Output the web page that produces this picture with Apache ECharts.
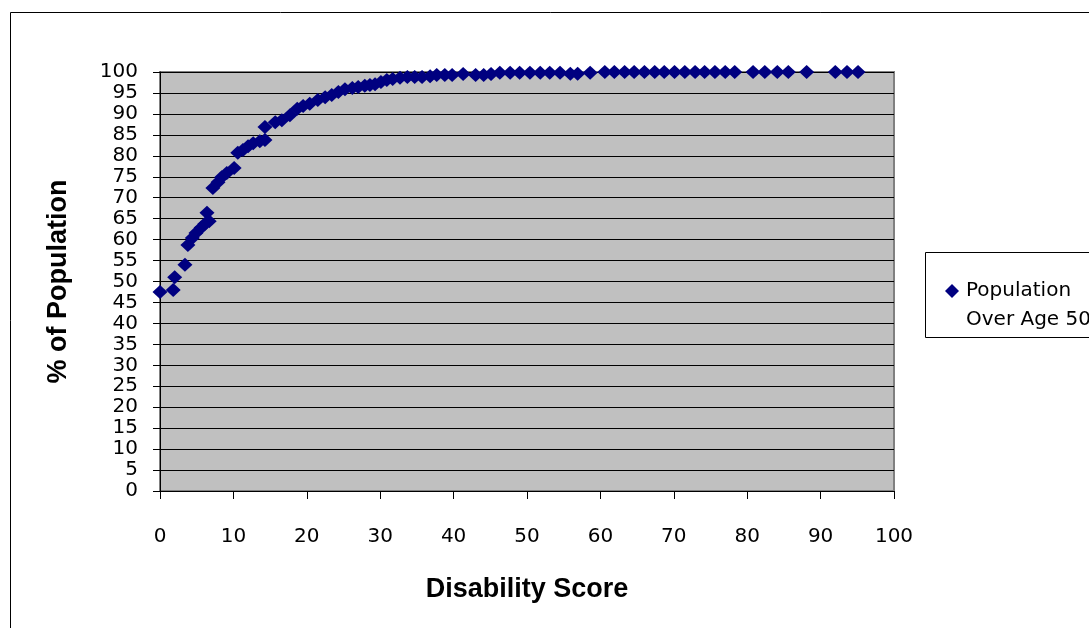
<!DOCTYPE html>
<html>
<head>
<meta charset="utf-8">
<script src="https://cdn.jsdelivr.net/npm/echarts@6/dist/echarts.min.js"></script>
<style>
  html, body { margin: 0; padding: 0; background: #fff; }
  #chart { width: 1089px; height: 628px; }
</style>
</head>
<body>
<div id="chart"></div>
<script>
// disability score (x) and cumulative % of population (y)
var scores = [0, 1.8, 2.0, 3.4, 3.8, 4.4, 4.9, 5.6, 6.1, 6.4, 6.7, 7.2, 7.9, 8.4, 9.1, 10.1,
  10.6, 11.3, 12.0, 12.7, 13.6, 14.3, 14.3, 15.7, 16.6, 17.7, 18.7, 19.5, 20.4, 21.5, 22.5,
  23.4, 24.3, 25.2, 26.2, 27.0, 27.9, 28.6, 29.3, 30.1, 30.9, 31.7, 32.7, 33.7, 34.7, 35.7,
  36.8, 37.7, 38.8, 39.8, 41.3, 43.0, 44.1, 45.1, 46.3, 47.7, 49.0, 50.4, 51.8, 53.1, 54.5,
  55.9, 56.9, 58.6, 60.6, 61.9, 63.3, 64.6, 66.0, 67.4, 68.7, 70.1, 71.5, 72.9, 74.2, 75.6,
  77.0, 78.3, 80.8, 82.4, 84.1, 85.6, 88.1, 92.0, 93.6, 95.1];
var percents = [47.5, 48.0, 51.0, 54.0, 58.7, 60.4, 61.6, 62.8, 63.7, 66.4, 64.4, 72.3, 73.7, 74.9, 75.9, 77.1,
  80.7, 81.4, 82.3, 83.0, 83.5, 83.8, 86.9, 88.0, 88.5, 89.7, 91.2, 91.9, 92.4, 93.3, 94.0,
  94.5, 95.2, 95.9, 96.2, 96.4, 96.7, 96.9, 97.1, 97.6, 98.1, 98.3, 98.6, 98.8, 98.8, 98.8,
  99.0, 99.3, 99.3, 99.3, 99.5, 99.3, 99.3, 99.5, 99.8, 99.8, 99.8, 99.8, 99.8, 99.8, 99.8,
  99.6, 99.6, 99.8, 100, 100, 100, 100, 100, 100, 100, 100, 100, 100, 100, 100,
  100, 100, 100, 100, 100, 100, 100, 100, 100, 100];
var seriesName = 'Population Over Age 50';
var legendLines = ['Population', 'Over Age 50'];

var points = scores.map(function (s, i) { return [s, percents[i]]; });

var chart = echarts.init(document.getElementById('chart'));
chart.setOption({
  animation: false,
  backgroundColor: '#ffffff',
  graphic: [
    { type: 'rect', left: 8, top: 10, z: -10, shape: { width: 1200, height: 700 },
      style: { fill: 'none', stroke: '#000', lineWidth: 1 } },
    { type: 'rect', left: 925, top: 252, z: -10, shape: { width: 300, height: 85 },
      style: { fill: '#fff', stroke: '#000', lineWidth: 1 } },
    // second line of the legend label
    { type: 'text', left: 966, top: 310,
      style: { text: legendLines[1], fill: '#000', font: '20px "DejaVu Sans"' } }
  ],
  grid: {
    left: 160, right: 195, top: 72, bottom: 137,
    show: true, backgroundColor: '#c0c0c0', borderColor: '#808080', borderWidth: 2
  },
  legend: {
    left: 940, top: 276,
    itemWidth: 14, itemHeight: 14, itemGap: 0,
    data: [{ name: seriesName, icon: 'diamond' }],
    formatter: function () { return legendLines[0]; },
    textStyle: { fontFamily: 'DejaVu Sans', fontSize: 20, color: '#000', padding: [0, 0, 0, 2] }
  },
  xAxis: {
    type: 'value', min: 0, max: 100, interval: 10,
    name: 'Disability Score', nameLocation: 'middle', nameGap: 85,
    nameTextStyle: { fontFamily: 'Liberation Sans', fontWeight: 'bold', fontSize: 27, color: '#000' },
    axisLine: { show: true, lineStyle: { color: '#000', width: 1 } },
    axisTick: { show: true, length: 8, lineStyle: { color: '#000' } },
    axisLabel: { margin: 36, fontFamily: 'DejaVu Sans', fontSize: 20, color: '#000' },
    splitLine: { show: false }
  },
  yAxis: {
    type: 'value', min: 0, max: 100, interval: 5,
    name: '% of Population', nameLocation: 'middle', nameGap: 88,
    nameTextStyle: { fontFamily: 'Liberation Sans', fontWeight: 'bold', fontSize: 27, color: '#000' },
    axisLine: { show: true, lineStyle: { color: '#000', width: 1 } },
    axisTick: { show: true, length: 7, lineStyle: { color: '#000' } },
    axisLabel: { margin: 22, fontFamily: 'DejaVu Sans', fontSize: 20, color: '#000' },
    splitLine: { show: true, lineStyle: { color: '#000', width: 1 } }
  },
  series: [{
    name: seriesName,
    type: 'scatter',
    symbol: 'diamond',
    symbolSize: [15, 14],
    itemStyle: { color: '#000080', opacity: 1 },
    data: points
  }]
});
</script>
</body>
</html>
